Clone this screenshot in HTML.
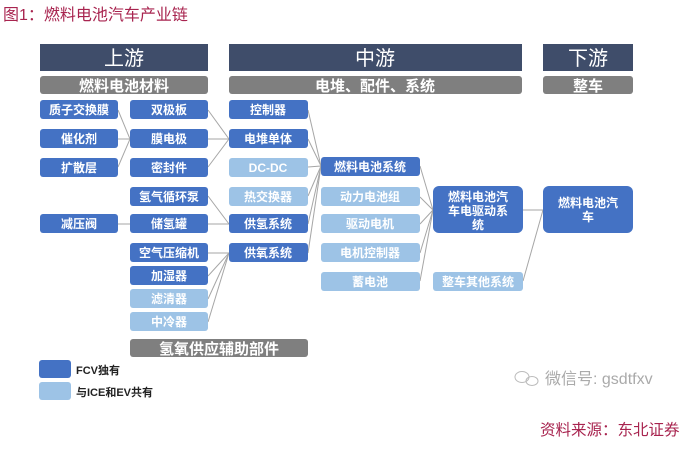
<!DOCTYPE html>
<html><head><meta charset="utf-8"><style>
html,body{margin:0;padding:0;background:#fff;}
body{width:690px;height:456px;overflow:hidden;font-family:"Liberation Sans","Noto Sans CJK SC",sans-serif;}
svg text{font-family:"Liberation Sans","Noto Sans CJK SC",sans-serif;}
</style></head><body>
<svg width="690" height="456" viewBox="0 0 690 456" xmlns="http://www.w3.org/2000/svg">
<text x="3" y="20" font-size="16" fill="#a8244f">图1：燃料电池汽车产业链</text>
<rect x="40" y="44" width="168" height="27" fill="#3f4d6a"/>
<text x="124" y="65" font-size="20" fill="#fff" text-anchor="middle">上游</text>
<rect x="229" y="44" width="293" height="27" fill="#3f4d6a"/>
<text x="375" y="65" font-size="20" fill="#fff" text-anchor="middle">中游</text>
<rect x="543" y="44" width="90" height="27" fill="#3f4d6a"/>
<text x="588" y="65" font-size="20" fill="#fff" text-anchor="middle">下游</text>
<rect x="40" y="76" width="168" height="18" rx="3" fill="#7f7f7f"/>
<text x="124" y="91" font-size="15" fill="#fff" text-anchor="middle" font-weight="bold">燃料电池材料</text>
<rect x="229" y="76" width="293" height="18" rx="3" fill="#7f7f7f"/>
<text x="375" y="91" font-size="15" fill="#fff" text-anchor="middle" font-weight="bold">电堆、配件、系统</text>
<rect x="543" y="76" width="90" height="18" rx="3" fill="#7f7f7f"/>
<text x="588" y="91" font-size="15" fill="#fff" text-anchor="middle" font-weight="bold">整车</text>
<rect x="130" y="339" width="178" height="18" rx="3" fill="#7f7f7f"/>
<text x="219" y="354" font-size="15" fill="#fff" text-anchor="middle" font-weight="bold">氢氧供应辅助部件</text>
<g stroke="#a6a6a6" stroke-width="1" fill="none">
<line x1="118" y1="110" x2="130" y2="139"/><line x1="118" y1="139" x2="130" y2="139"/><line x1="118" y1="167" x2="130" y2="139"/>
<line x1="208" y1="110" x2="229" y2="139"/><line x1="208" y1="139" x2="229" y2="139"/><line x1="208" y1="167" x2="229" y2="139"/>
<line x1="208" y1="196" x2="229" y2="224"/><line x1="208" y1="224" x2="229" y2="224"/><line x1="118" y1="224" x2="130" y2="224"/>
<line x1="208" y1="253" x2="229" y2="253"/><line x1="208" y1="276" x2="229" y2="253"/><line x1="208" y1="299" x2="229" y2="253"/><line x1="208" y1="322" x2="229" y2="253"/>
<line x1="308" y1="110" x2="321" y2="166"/><line x1="308" y1="139" x2="321" y2="166"/><line x1="308" y1="167" x2="321" y2="166"/><line x1="308" y1="196" x2="321" y2="166"/><line x1="308" y1="224" x2="321" y2="166"/><line x1="308" y1="253" x2="321" y2="166"/>
<line x1="420" y1="166" x2="433" y2="210"/><line x1="420" y1="197" x2="433" y2="210"/><line x1="420" y1="224" x2="433" y2="210"/><line x1="420" y1="253" x2="433" y2="210"/><line x1="420" y1="281" x2="433" y2="210"/>
<line x1="523" y1="210" x2="543" y2="210"/><line x1="523" y1="281" x2="543" y2="210"/>
</g>
<g font-size="12" text-anchor="middle" fill="#fff" font-weight="bold">
<g fill="#4472c4">
<rect x="40" y="100" width="78" height="19" rx="3"/><rect x="40" y="129" width="78" height="19" rx="3"/><rect x="40" y="158" width="78" height="19" rx="3"/><rect x="40" y="214" width="78" height="19" rx="3"/>
<rect x="130" y="100" width="78" height="19" rx="3"/><rect x="130" y="129" width="78" height="19" rx="3"/><rect x="130" y="158" width="78" height="19" rx="3"/><rect x="130" y="187" width="78" height="19" rx="3"/><rect x="130" y="214" width="78" height="19" rx="3"/><rect x="130" y="243" width="78" height="19" rx="3"/><rect x="130" y="266" width="78" height="19" rx="3"/>
<rect x="229" y="100" width="79" height="19" rx="3"/><rect x="229" y="129" width="79" height="19" rx="3"/><rect x="229" y="214" width="79" height="19" rx="3"/><rect x="229" y="243" width="79" height="19" rx="3"/>
<rect x="321" y="157" width="99" height="19" rx="3"/>
<rect x="433" y="186" width="90" height="47" rx="6"/>
<rect x="543" y="186" width="90" height="47" rx="6"/>
<rect x="39" y="360" width="32" height="18" rx="3"/>
</g>
<g fill="#9dc3e6">
<rect x="130" y="289" width="78" height="19" rx="3"/><rect x="130" y="312" width="78" height="19" rx="3"/>
<rect x="229" y="158" width="79" height="19" rx="3"/><rect x="229" y="187" width="79" height="19" rx="3"/>
<rect x="321" y="187" width="99" height="19" rx="3"/><rect x="321" y="214" width="99" height="19" rx="3"/><rect x="321" y="243" width="99" height="19" rx="3"/><rect x="321" y="272" width="99" height="19" rx="3"/>
<rect x="433" y="272" width="90" height="19" rx="3"/>
<rect x="39" y="382" width="32" height="18" rx="3"/>
</g>
<text x="79" y="114">质子交换膜</text><text x="79" y="143">催化剂</text><text x="79" y="172">扩散层</text><text x="79" y="228">减压阀</text>
<text x="169" y="114">双极板</text><text x="169" y="143">膜电极</text><text x="169" y="172">密封件</text><text x="169" y="201">氢气循环泵</text><text x="169" y="228">储氢罐</text><text x="169" y="257">空气压缩机</text><text x="169" y="280">加湿器</text><text x="169" y="303">滤清器</text><text x="169" y="326">中冷器</text>
<text x="268" y="114">控制器</text><text x="268" y="143">电堆单体</text><text x="268" y="172">DC-DC</text><text x="268" y="201">热交换器</text><text x="268" y="228">供氢系统</text><text x="268" y="257">供氧系统</text>
<text x="370" y="171">燃料电池系统</text><text x="370" y="201">动力电池组</text><text x="370" y="228">驱动电机</text><text x="370" y="257">电机控制器</text><text x="370" y="286">蓄电池</text>
<text x="478" y="201">燃料电池汽</text><text x="478" y="215">车电驱动系</text><text x="478" y="229">统</text>
<text x="478" y="286">整车其他系统</text>
<text x="588" y="207">燃料电池汽</text><text x="588" y="221">车</text>
</g>
<text x="76" y="374" font-size="11" fill="#222" font-weight="bold">FCV独有</text>
<text x="76" y="396" font-size="11" fill="#222" font-weight="bold">与ICE和EV共有</text>
<g fill="none" stroke="#bbb" stroke-width="1"><ellipse cx="522" cy="377" rx="7" ry="5.5"/><ellipse cx="532" cy="381" rx="6" ry="4.5"/></g>
<text x="545" y="384" font-size="16" fill="#aaa">微信号: gsdtfxv</text>
<text x="540" y="435" font-size="15.5" fill="#a8244f">资料来源：东北证券</text>
</svg>
</body></html>
